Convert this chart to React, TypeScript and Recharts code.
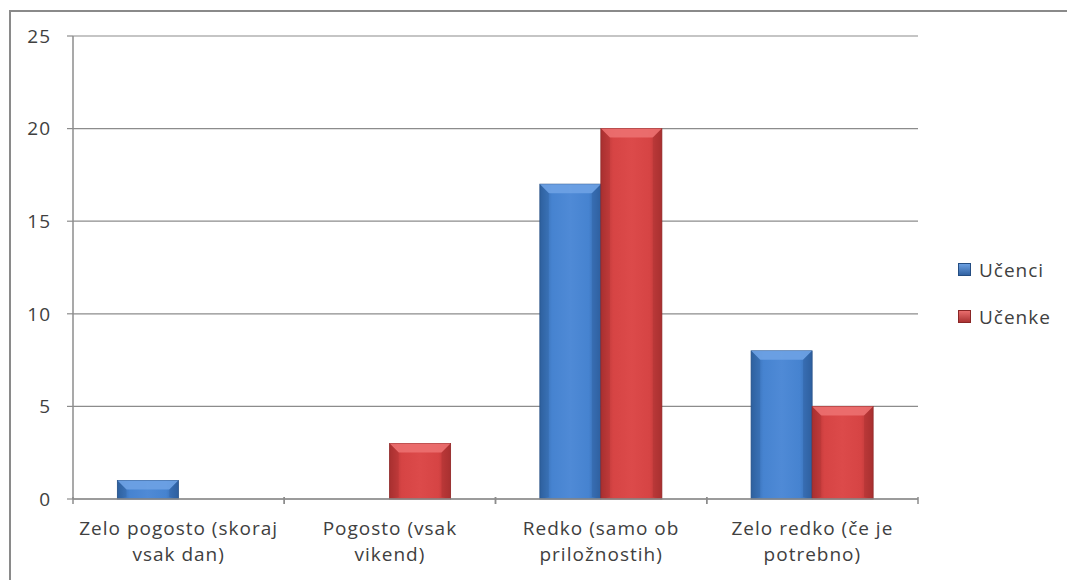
import React from "react";
import { BarChart, Bar, XAxis, YAxis, CartesianGrid } from "recharts";

const categories = [
  "Zelo pogosto (skoraj vsak dan)",
  "Pogosto (vsak vikend)",
  "Redko (samo ob priložnostih)",
  "Zelo redko (če je potrebno)",
];
const categoryLines = [
  ["Zelo pogosto (skoraj", "vsak dan)"],
  ["Pogosto (vsak", "vikend)"],
  ["Redko (samo ob", "priložnostih)"],
  ["Zelo redko (če je", "potrebno)"],
];
const ucenci = [1, 0, 17, 8];
const ucenke = [0, 3, 20, 5];
const yTicks = [0, 5, 10, 15, 20, 25];
const seriesNames = ["Učenci", "Učenke"];

const data = categories.map((c, i) => ({
  name: c,
  lines: categoryLines[i],
  ucenci: ucenci[i],
  ucenke: ucenke[i],
}));

const FONT = "'Open Sans', sans-serif";
const TEXT = "#404040";
const GRID = "#8c8c8c";

const palettes: Record<string, { dark: string; mid: string; light: string; top: string; edge: string }> = {
  blue: { dark: "#2f609f", mid: "#4683d0", light: "#4f8ad6", top: "#6ea2e4", edge: "#244d82" },
  red: { dark: "#a83030", mid: "#d64444", light: "#dc4a4a", top: "#ec7070", edge: "#8a2626" },
};
const legendKeys = ["blue", "red"];

const makeShape = (key: string) => (props: any) => {
  const { x, y, width, height } = props;
  if (!height || height <= 0) return <g />;
  const p = palettes[key];
  const b = Math.min(9, height / 2, width / 4);
  return (
    <g>
      <rect x={x} y={y} width={width} height={height} fill={`url(#grad-${key})`} stroke={p.edge} strokeWidth={0.8} />
      <polygon
        points={`${x},${y} ${x + width},${y} ${x + width - b},${y + b} ${x + b},${y + b}`}
        fill={p.top}
        opacity={0.9}
      />
      <polygon points={`${x},${y} ${x + b},${y + b} ${x + b},${y + height - 2} ${x},${y + height}`} fill={p.dark} opacity={0.35} />
      <polygon
        points={`${x + width},${y} ${x + width - b},${y + b} ${x + width - b},${y + height - 2} ${x + width},${y + height}`}
        fill={p.dark}
        opacity={0.45}
      />
    </g>
  );
};

const XTick = (props: any) => {
  const { x, y, payload, index } = props;
  const half = payload.offset || 0;
  const lines: string[] = categoryLines[index] || [String(payload.value)];
  return (
    <g>
      <line x1={x - half} y1={y - 10} x2={x - half} y2={y - 3} stroke={GRID} strokeWidth={1.5} />
      <line x1={x + half} y1={y - 10} x2={x + half} y2={y - 3} stroke={GRID} strokeWidth={1.5} />
      <text x={x} y={y} textAnchor="middle" fill={TEXT} fontFamily={FONT} fontSize={19} letterSpacing={1}>
        {lines.map((l, i) => (
          <tspan key={i} x={x} dy={i === 0 ? 28 : 26}>
            {l}
          </tspan>
        ))}
      </text>
    </g>
  );
};

const ManualLegend = () => (
  <div style={{ position: "absolute", left: 958, top: 246, fontFamily: FONT, fontSize: 19, color: TEXT, letterSpacing: 1 }}>
    {seriesNames.map((name, i) => {
      const p = palettes[legendKeys[i]];
      return (
        <div key={i} style={{ display: "flex", alignItems: "center", height: 47 }}>
          <svg width={13} height={13} style={{ marginRight: 8 }}>
            <defs>
              <linearGradient id={`lg-${i}`} x1="0" y1="0" x2="0" y2="1">
                <stop offset="0" stopColor={p.top} />
                <stop offset="1" stopColor={p.dark} />
              </linearGradient>
            </defs>
            <rect x={0.5} y={0.5} width={12} height={12} fill={`url(#lg-${i})`} stroke={p.edge} />
          </svg>
          <span>{name}</span>
        </div>
      );
    })}
  </div>
);

export default function App() {
  return (
    <div style={{ position: "absolute", left: 0, top: 0, width: 1067, height: 580, background: "#fff", overflow: "hidden" }}>
      <div
        style={{
          position: "absolute",
          left: 9,
          top: 10,
          width: 1200,
          height: 700,
          borderLeft: "2px solid #8a8a8a",
          borderTop: "2px solid #8a8a8a",
        }}
      />
      <div style={{ position: "absolute", left: 0, top: 0 }}>
        <BarChart
          width={1067}
          height={580}
          data={data}
          margin={{ top: 36, right: 149, left: 13, bottom: 21 }}
          barCategoryGap="21%"
          barGap={0}
        >
          <defs>
            {Object.keys(palettes).map((k) => (
              <linearGradient key={k} id={`grad-${k}`} x1="0" y1="0" x2="1" y2="0">
                <stop offset="0" stopColor={palettes[k].dark} />
                <stop offset="0.2" stopColor={palettes[k].mid} />
                <stop offset="0.5" stopColor={palettes[k].light} />
                <stop offset="0.8" stopColor={palettes[k].mid} />
                <stop offset="1" stopColor={palettes[k].dark} />
              </linearGradient>
            ))}
          </defs>
          <CartesianGrid vertical={false} stroke={GRID} strokeWidth={1.2} />
          <XAxis
            dataKey="name"
            height={60}
            axisLine={{ stroke: GRID, strokeWidth: 1.5 }}
            tickLine={false}
            tick={<XTick />}
            interval={0}
          />
          <YAxis
            width={60}
            domain={[0, 25]}
            ticks={yTicks}
            interval={0}
            axisLine={{ stroke: GRID, strokeWidth: 1.5 }}
            tickLine={{ stroke: GRID, strokeWidth: 1.2 }}
            tickSize={6}
            tickMargin={16}
            tick={{ fill: TEXT, fontFamily: FONT, fontSize: 19, letterSpacing: 1 }}
          />
          <Bar dataKey="ucenci" name={seriesNames[0]} fill="#4683d0" shape={makeShape("blue")} isAnimationActive={false} />
          <Bar dataKey="ucenke" name={seriesNames[1]} fill="#d64444" shape={makeShape("red")} isAnimationActive={false} />
        </BarChart>
      </div>
      <ManualLegend />
    </div>
  );
}
